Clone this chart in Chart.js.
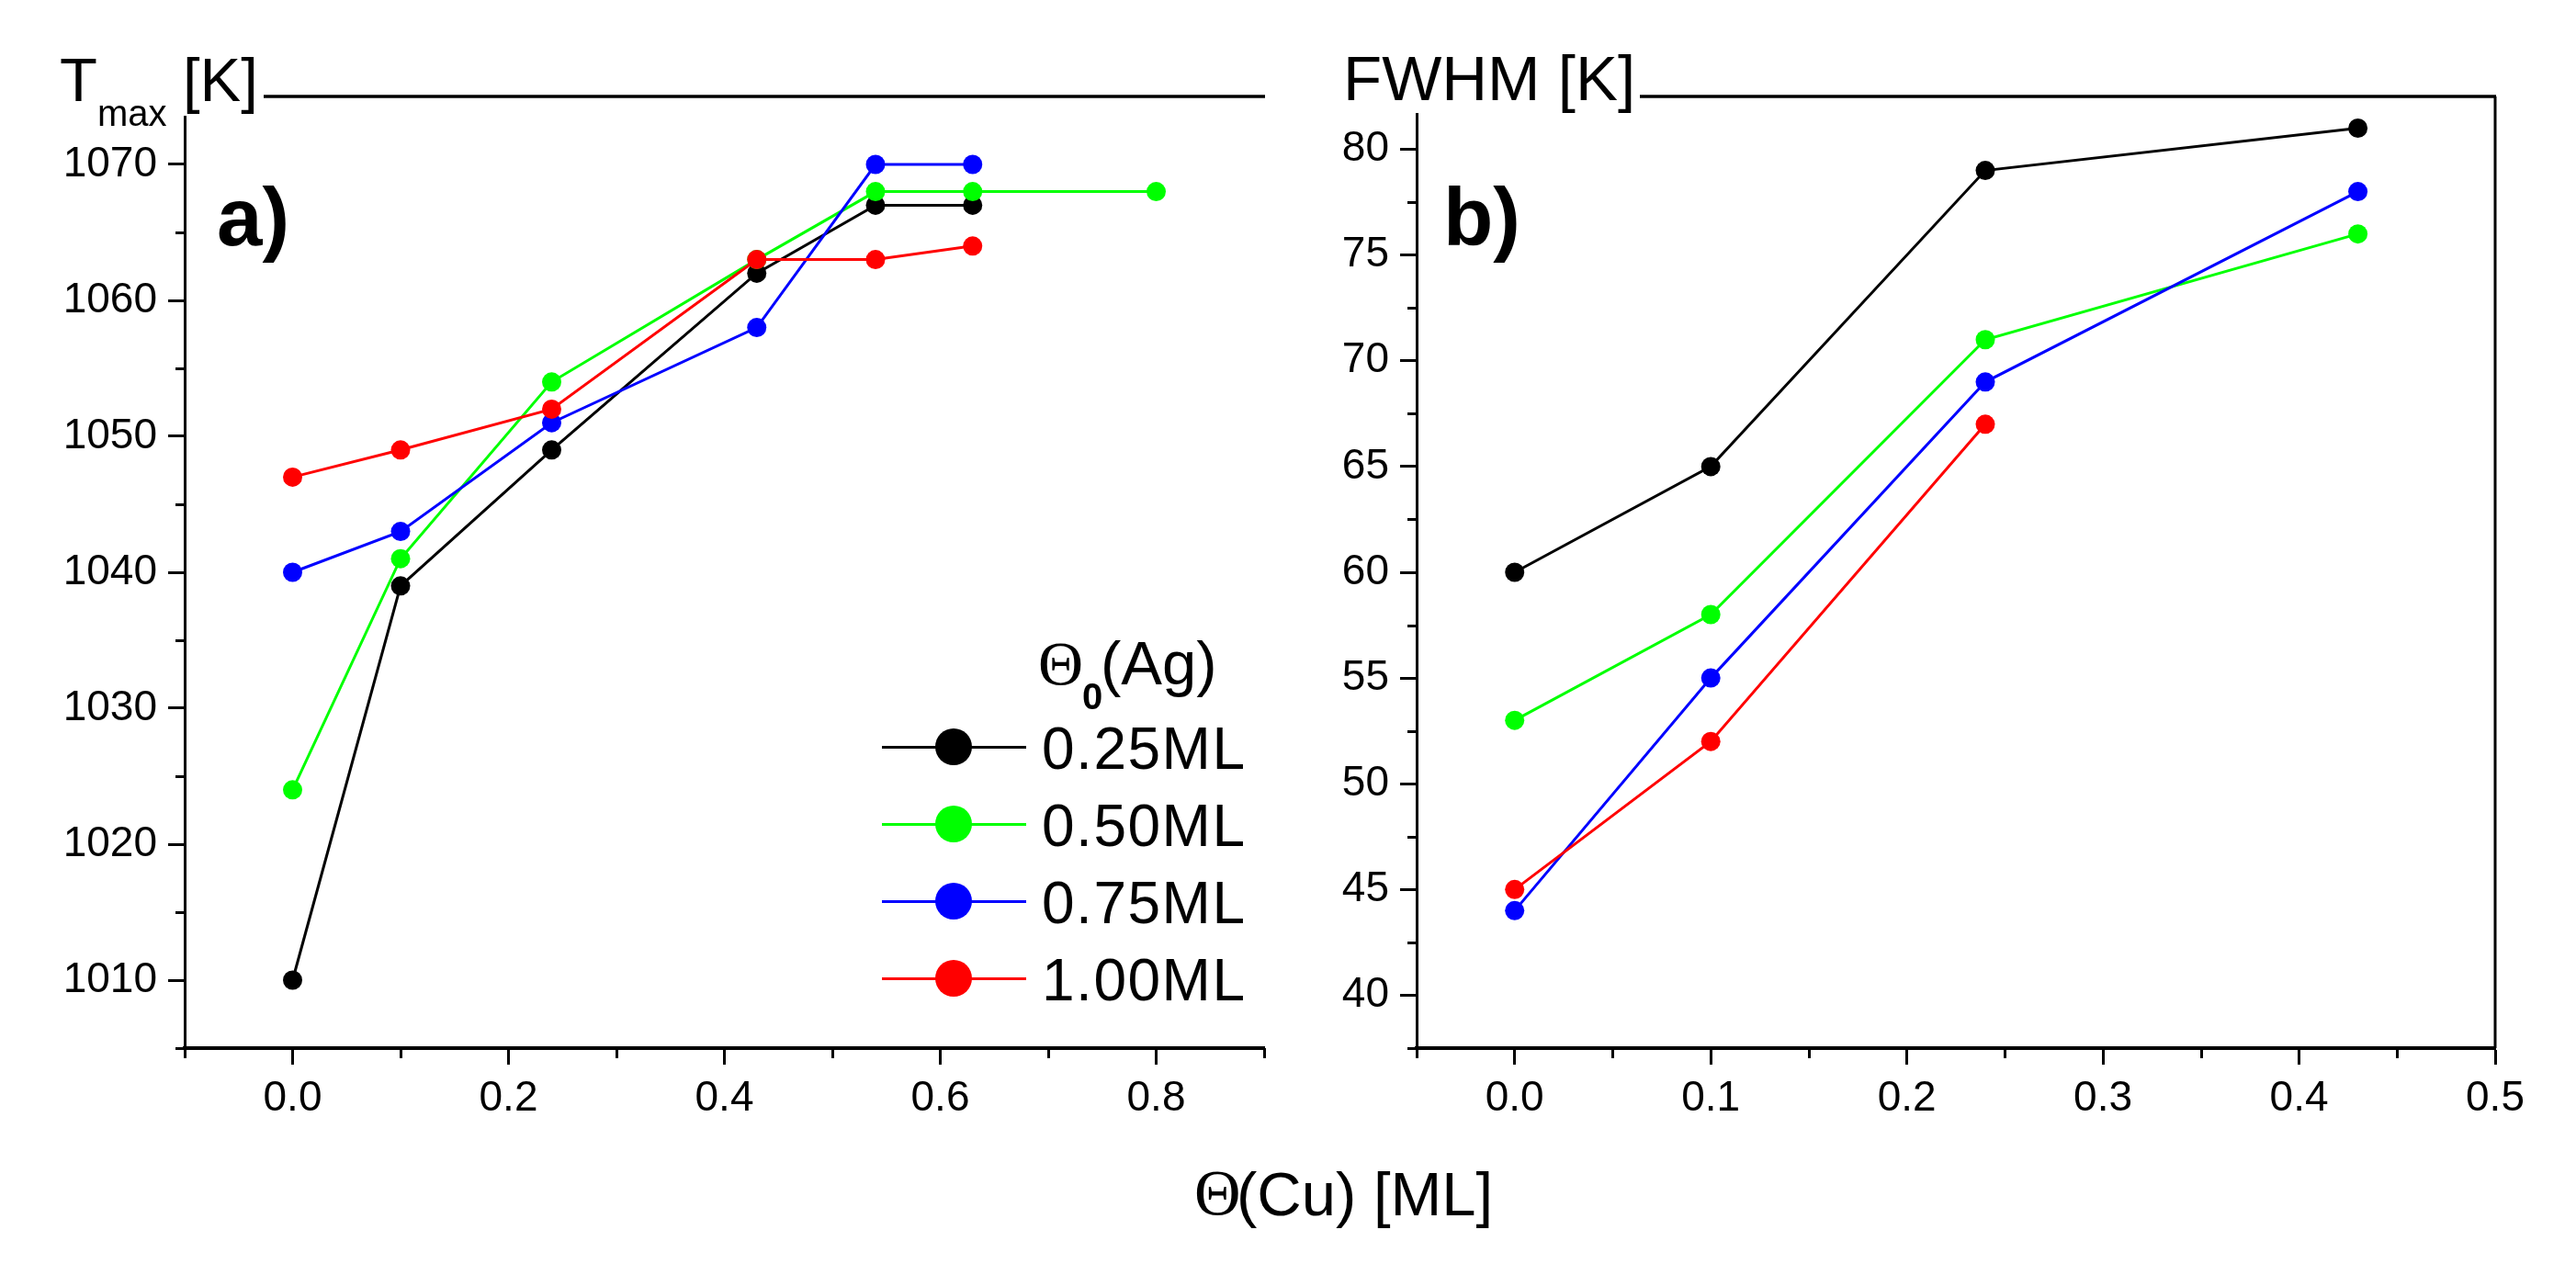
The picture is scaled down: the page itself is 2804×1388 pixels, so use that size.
<!DOCTYPE html>
<html>
<head>
<meta charset="utf-8">
<script src="https://cdn.jsdelivr.net/npm/chart.js@4.4.1/dist/chart.umd.min.js"></script>
<style>
html, body { margin: 0; padding: 0; background: #ffffff; }
#wrap { position: relative; width: 2804px; height: 1388px; overflow: hidden; background: #ffffff; color: #000; font-family: 'Liberation Sans', Arial, sans-serif; }
canvas { position: absolute; top: 0; }
.t { position: absolute; white-space: nowrap; line-height: 1; margin: 0; padding: 0; }
.box { position: absolute; background: #ffffff; }
</style>
</head>
<body>
<div id="wrap">
  <canvas id="chartA" width="1420" height="1388" style="left:0px;"></canvas>
  <canvas id="chartB" width="1384" height="1388" style="left:1420px;"></canvas>
</div>
<script>
// ---------------- data ----------------
const cuCoverageA = [0, 0.1, 0.24, 0.43, 0.54, 0.63, 0.8];
const tmaxAg025 = [1010, 1039, 1049, 1062, 1067, 1067, null];
const tmaxAg050 = [1024, 1041, 1054, 1063, 1068, 1068, 1068];
const tmaxAg075 = [1040, 1043, 1051, 1058, 1070, 1070, null];
const tmaxAg100 = [1047, 1049, 1052, 1063, 1063, 1064, null];

const cuCoverageB = [0, 0.1, 0.24, 0.43];
const fwhmAg025 = [60, 65, 79, 81];
const fwhmAg050 = [53, 58, 71, 76];
const fwhmAg075 = [44, 55, 69, 78];
const fwhmAg100 = [45, 52, 67, null];

const seriesLabels = ['0.25ML', '0.50ML', '0.75ML', '1.00ML'];
const seriesColors = ['#000000', '#00ff00', '#0000ff', '#ff0000'];

const xTickLabelsA = ['0.0', '0.2', '0.4', '0.6', '0.8'];
const yTickLabelsA = ['1010', '1020', '1030', '1040', '1050', '1060', '1070'];
const xTickLabelsB = ['0.0', '0.1', '0.2', '0.3', '0.4', '0.5'];
const yTickLabelsB = ['40', '45', '50', '55', '60', '65', '70', '75', '80'];

// ---------------- helpers ----------------
const FONT = "'Liberation Sans', Arial, sans-serif";
const SERIF = "'Liberation Serif', 'Times New Roman', serif";

function toPoints(xs, ys) {
  const pts = [];
  xs.forEach((x, i) => { if (ys[i] !== null && ys[i] !== undefined) pts.push({ x: x, y: ys[i] }); });
  return pts;
}
function makeDatasets(xs, seriesList) {
  return seriesList.map((ys, i) => ({
    label: seriesLabels[i],
    data: toPoints(xs, ys),
    borderColor: seriesColors[i],
    backgroundColor: seriesColors[i],
    pointBackgroundColor: seriesColors[i],
    pointBorderWidth: 0,
    pointRadius: 10.5,
    pointHoverRadius: 10.5,
    borderWidth: 3,
    tension: 0,
    order: seriesList.length - i
  }));
}
function labelCb(labels) {
  return function (v) {
    const f = labels.find(l => Math.abs(parseFloat(l) - v) < 1e-6);
    return f === undefined ? '' : f;
  };
}
function axis(opts) {
  return {
    type: 'linear',
    position: opts.position,
    min: opts.min,
    max: opts.max,
    afterFit: opts.afterFit,
    ticks: {
      stepSize: opts.step,
      autoSkip: false,
      maxRotation: 0,
      minRotation: 0,
      includeBounds: true,
      padding: opts.padding,
      color: '#000',
      font: { family: FONT, size: 46 },
      callback: labelCb(opts.labels)
    },
    grid: {
      display: true,
      drawOnChartArea: false,
      drawTicks: true,
      tickLength: 18,
      tickWidth: 3,
      tickColor: (ctx) => (ctx.tick && ctx.tick.label !== '' ? '#000' : 'rgba(0,0,0,0)')
    },
    border: { display: true, color: '#000', width: opts.borderWidth }
  };
}

// minor ticks + frame lines
const framePlugin = {
  id: 'framePlugin',
  afterDraw(chart, args, pluginOpts) {
    const ctx = chart.ctx;
    const ca = chart.chartArea;
    ctx.save();
    ctx.strokeStyle = '#000';
    ctx.lineCap = 'butt';
    ctx.lineWidth = 3;
    const xs = chart.scales.x, ys = chart.scales.y;
    xs.ticks.forEach(t => {
      if (t.label === '') {
        const px = Math.round(xs.getPixelForValue(t.value)) + 0.5;
        ctx.beginPath(); ctx.moveTo(px, xs.top); ctx.lineTo(px, xs.top + 11); ctx.stroke();
      }
    });
    ys.ticks.forEach(t => {
      if (t.label === '') {
        const py = Math.round(ys.getPixelForValue(t.value)) + 0.5;
        ctx.beginPath(); ctx.moveTo(ys.right, py); ctx.lineTo(ys.right - 10, py); ctx.stroke();
      }
    });
    ctx.lineWidth = 3.5;
    ctx.beginPath(); ctx.moveTo(ca.left, ca.top); ctx.lineTo(ca.right + 1, ca.top); ctx.stroke();
    if (pluginOpts && pluginOpts.right) {
      ctx.lineWidth = 3;
      ctx.beginPath(); ctx.moveTo(ca.right, ca.top); ctx.lineTo(ca.right, ca.bottom); ctx.stroke();
    }
    ctx.restore();
  }
};

function makeChart(id, xs, series, cfg) {
  return new Chart(document.getElementById(id), {
    type: 'line',
    data: { datasets: makeDatasets(xs, series) },
    options: {
      responsive: false,
      animation: false,
      devicePixelRatio: 1,
      layout: { padding: cfg.padding },
      plugins: { legend: { display: false }, tooltip: { enabled: false }, framePlugin: { right: cfg.rightBorder } },
      events: [],
      scales: {
        x: axis({ position: 'bottom', min: cfg.xMin, max: cfg.xMax, step: cfg.xStep, labels: cfg.xLabels, padding: 10, borderWidth: 4,
                  afterFit: (s) => { s.height = 247; } }),
        y: axis({ position: 'left', min: cfg.yMin, max: cfg.yMax, step: cfg.yStep, labels: cfg.yLabels, padding: 12, borderWidth: 3,
                  afterFit: (s) => { s.width = cfg.yWidth; } })
      }
    },
    plugins: [framePlugin]
  });
}

makeChart('chartA', cuCoverageA, [tmaxAg025, tmaxAg050, tmaxAg075, tmaxAg100], {
  padding: { left: 0, right: 44, top: 105, bottom: 0 },
  xMin: -0.1, xMax: 0.9, xStep: 0.1, xLabels: xTickLabelsA,
  yMin: 1005, yMax: 1075, yStep: 5, yLabels: yTickLabelsA,
  yWidth: 201, rightBorder: false
});
makeChart('chartB', cuCoverageB, [fwhmAg025, fwhmAg050, fwhmAg075, fwhmAg100], {
  padding: { left: 0, right: 88, top: 105, bottom: 0 },
  xMin: -0.05, xMax: 0.5, xStep: 0.05, xLabels: xTickLabelsB,
  yMin: 37.5, yMax: 82.5, yStep: 2.5, yLabels: yTickLabelsB,
  yWidth: 122, rightBorder: true
});

// ---------------- overlay texts ----------------
const wrap = document.getElementById('wrap');
function box(l, t, w, h) {
  const d = document.createElement('div');
  d.className = 'box';
  d.style.left = l + 'px'; d.style.top = t + 'px'; d.style.width = w + 'px'; d.style.height = h + 'px';
  wrap.appendChild(d);
}
function text(str, left, baseline, size, opts) {
  opts = opts || {};
  const serif = !!opts.serif;
  const k = serif ? 0.8375 : 0.8465;
  const s = document.createElement('div');
  s.className = 't';
  s.textContent = str;
  s.style.left = left + 'px';
  s.style.top = (baseline - k * size) + 'px';
  s.style.fontSize = size + 'px';
  s.style.fontFamily = serif ? SERIF : FONT;
  s.style.fontWeight = opts.bold ? 'bold' : 'normal';
  if (opts.spacing) s.style.letterSpacing = opts.spacing + 'px';
  wrap.appendChild(s);
}

// title boxes covering frame
box(50, 30, 237, 96);
box(1455, 30, 330, 93);
text('T', 65, 110, 67);
text('max', 106, 137, 40);
text('[K]', 199, 110, 67);
text('FWHM [K]', 1462, 109, 69);

// panel letters
text('a)', 236, 267, 89, { bold: true });
text('b)', 1571, 267, 89, { bold: true });

// legend
text('Θ', 1130, 745, 68, { serif: true });
text('0', 1178, 772, 40, { bold: true });
text('(Ag)', 1198, 745, 67);
const legendRowsY = [813, 897, 981, 1065];
seriesLabels.forEach((lab, i) => {
  const cy = legendRowsY[i];
  const line = document.createElement('div');
  line.style.cssText = 'position:absolute;left:960px;width:157px;height:3px;top:' + (cy - 1.5) + 'px;background:' + seriesColors[i] + ';';
  wrap.appendChild(line);
  const dot = document.createElement('div');
  dot.style.cssText = 'position:absolute;left:1018px;width:40px;height:40px;border-radius:50%;top:' + (cy - 20) + 'px;background:' + seriesColors[i] + ';';
  wrap.appendChild(dot);
  text(lab, 1134, cy + 24, 64, { spacing: 1.5 });
});

// shared x-axis title
text('Θ', 1300, 1323, 70, { serif: true });
text('(Cu) [ML]', 1346, 1323, 67);
</script>
</body>
</html>
